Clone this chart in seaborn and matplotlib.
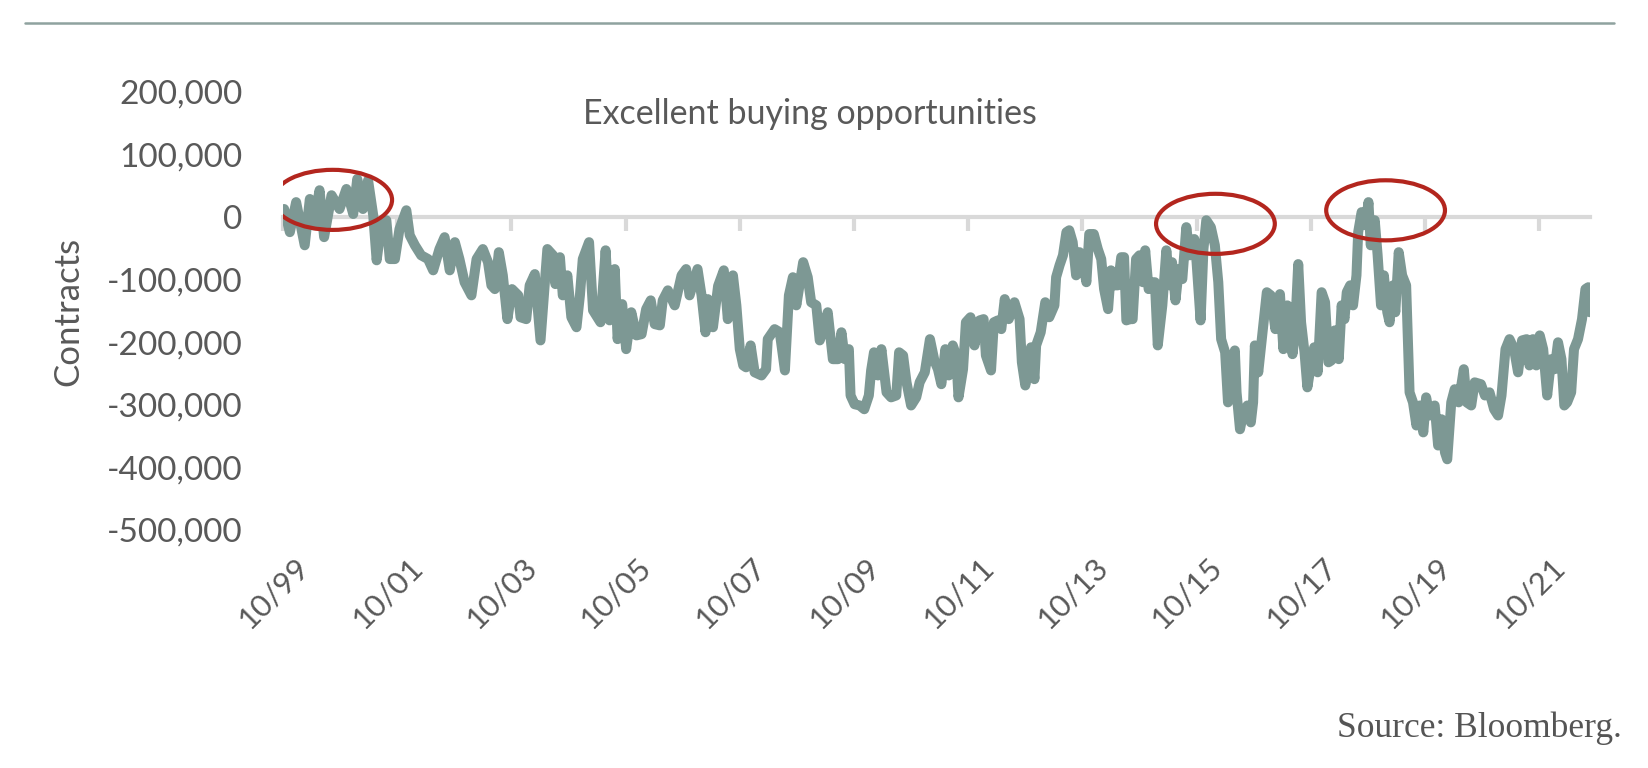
import numpy as np
import pandas as pd
import matplotlib
matplotlib.use("Agg")
import matplotlib.pyplot as plt
import matplotlib.dates as mdates
import matplotlib.transforms as mtransforms
from matplotlib.patches import Ellipse
from matplotlib.lines import Line2D
from matplotlib.ticker import FuncFormatter
import seaborn as sns

# ---- data ----
# years elapsed since October 1999
t_years = [
    0.02, 0.12, 0.23, 0.38, 0.47, 0.53, 0.64, 0.72, 0.85, 0.99, 1.11, 1.23, 1.30, 1.40, 1.49, 1.58,
    1.64, 1.72, 1.81, 1.87, 1.96, 2.04, 2.16, 2.22, 2.31, 2.42, 2.54, 2.63, 2.74, 2.83, 2.92, 3.01,
    3.09, 3.18, 3.30, 3.39, 3.50, 3.59, 3.65, 3.71, 3.78, 3.85, 3.93, 4.01, 4.12, 4.16, 4.26, 4.32,
    4.41, 4.51, 4.63, 4.73, 4.77, 4.85, 4.90, 4.98, 5.05, 5.14, 5.20, 5.25, 5.36, 5.43, 5.56, 5.65,
    5.72, 5.81, 5.86, 5.94, 6.01, 6.10, 6.19, 6.28, 6.36, 6.44, 6.51, 6.60, 6.65, 6.74, 6.86, 6.98,
    7.06, 7.12, 7.26, 7.33, 7.40, 7.44, 7.53, 7.62, 7.72, 7.79, 7.88, 7.94, 8.00, 8.06, 8.11, 8.19,
    8.26, 8.38, 8.46, 8.49, 8.61, 8.70, 8.79, 8.86, 8.93, 8.99, 9.11, 9.19, 9.25, 9.34, 9.40, 9.46,
    9.54, 9.63, 9.72, 9.78, 9.84, 9.91, 9.94, 10.01, 10.10, 10.18, 10.26, 10.30, 10.35, 10.42, 10.48,
    10.57, 10.65, 10.74, 10.79, 10.86, 10.92, 11.00, 11.09, 11.15, 11.24, 11.33, 11.41, 11.47, 11.53,
    11.60, 11.66, 11.73, 11.79, 11.83, 11.91, 11.96, 12.04, 12.11, 12.20, 12.27, 12.31, 12.40, 12.45,
    12.52, 12.58, 12.64, 12.71, 12.81, 12.90, 12.94, 13.00, 13.06, 13.10, 13.16, 13.19, 13.27, 13.35,
    13.42, 13.51, 13.54, 13.60, 13.66, 13.72, 13.77, 13.83, 13.89, 13.95, 14.01, 14.07, 14.12, 14.20,
    14.27, 14.33, 14.38, 14.45, 14.50, 14.56, 14.62, 14.68, 14.73, 14.77, 14.83, 14.88, 14.94, 15.00,
    15.06, 15.10, 15.16, 15.23, 15.27, 15.32, 15.40, 15.47, 15.53, 15.57, 15.63, 15.69, 15.75, 15.82,
    15.88, 15.96, 16.00, 16.07, 16.12, 16.17, 16.25, 16.32, 16.38, 16.43, 16.50, 16.55, 16.62, 16.67,
    16.70, 16.76, 16.82, 16.89, 16.95, 16.99, 17.02, 17.08, 17.15, 17.23, 17.30, 17.38, 17.46, 17.52,
    17.59, 17.68, 17.72, 17.78, 17.83, 17.89, 17.94, 18.01, 18.06, 18.12, 18.19, 18.25, 18.31, 18.36,
    18.42, 18.49, 18.54, 18.59, 18.63, 18.69, 18.74, 18.80, 18.83, 18.89, 18.96, 19.01, 19.05, 19.12,
    19.17, 19.23, 19.28, 19.34, 19.38, 19.44, 19.48, 19.54, 19.60, 19.67, 19.73, 19.79, 19.85, 19.91,
    19.97, 20.02, 20.08, 20.17, 20.23, 20.29, 20.35, 20.39, 20.46, 20.52, 20.59, 20.68, 20.73, 20.81,
    20.87, 20.98, 21.05, 21.13, 21.21, 21.28, 21.34, 21.41, 21.48, 21.56, 21.63, 21.70, 21.78, 21.83,
    21.89, 21.95, 22.01, 22.07, 22.14, 22.21, 22.27, 22.33, 22.39, 22.44, 22.49, 22.56, 22.61, 22.68,
    22.75, 22.81, 22.86, 22.89,
]
# net positions, thousands of contracts
net_k = [
    13, -24, 24, -45, 29, -13, 43, -32, 35, 13, 45, 5, 61, 13, 59, 3,
    -69, -13, -5, -67, -67, -19, 11, -29, -45, -61, -67, -85, -51, -32, -85, -40,
    -67, -104, -125, -67, -51, -72, -109, -115, -56, -93, -163, -115, -125, -160, -163, -109,
    -91, -197, -51, -61, -107, -64, -125, -93, -160, -176, -125, -67, -40, -149, -168, -53,
    -165, -83, -195, -139, -211, -152, -189, -187, -147, -133, -171, -173, -133, -117, -141, -93,
    -83, -125, -83, -125, -184, -131, -176, -110, -85, -163, -93, -141, -211, -237, -240, -205,
    -248, -253, -243, -195, -179, -184, -245, -125, -96, -141, -72, -96, -136, -141, -197, -181,
    -152, -227, -227, -184, -227, -211, -285, -299, -301, -307, -285, -245, -216, -253, -211,
    -280, -288, -285, -216, -221, -264, -301, -288, -264, -248, -195, -230, -243, -267,
    -211, -253, -205, -221, -288, -243, -168, -160, -205, -165, -163, -221, -245, -168,
    -165, -179, -131, -163, -136, -163, -232, -269, -240, -208, -259, -205, -184, -136,
    -160, -141, -96, -77, -61, -24, -21, -40, -93, -56, -72, -104, -27, -27,
    -51, -67, -115, -147, -85, -109, -109, -64, -64, -165, -163, -163, -67, -61,
    -104, -53, -115, -104, -104, -205, -141, -53, -109, -72, -133, -83, -99, -16,
    -61, -35, -72, -165, -51, -5, -16, -45, -104, -195, -216, -296, -243, -213,
    -280, -339, -312, -301, -328, -296, -205, -248, -189, -120, -125, -179, -123, -211,
    -141, -219, -189, -75, -168, -216, -272, -232, -208, -248, -120, -136, -232, -229,
    -181, -227, -141, -163, -120, -109, -141, -93, -24, 8, -13, 24, -45, -5,
    -60, -141, -93, -152, -168, -109, -152, -56, -93, -109, -280, -296, -333, -301,
    -344, -288, -317, -301, -365, -323, -376, -387, -296, -275, -296, -243, -296, -301,
    -264, -267, -285, -280, -307, -317, -285, -211, -195, -211, -248, -197, -195, -237,
    -195, -237, -189, -211, -285, -227, -243, -200, -227, -301, -296, -280, -211, -195,
    -163, -115, -112, -152,
]
start_date = "1999-10-01"
x_tick_labels = ["10/99", "10/01", "10/03", "10/05", "10/07", "10/09",
                 "10/11", "10/13", "10/15", "10/17", "10/19", "10/21"]
y_ticks = [200000, 100000, 0, -100000, -200000, -300000, -400000, -500000]
title_text = "Excellent buying opportunities"
y_label = "Contracts"
source_text = "Source: Bloomberg."
# highlighted zones: (years since Oct 1999, contracts)
ellipse_t = [0.87, 16.33, 19.31]
ellipse_val = [27600, -10700, 10900]

# ---- build frame ----
t0 = pd.Timestamp(start_date)
dates = [t0 + pd.Timedelta(days=v * 365.25) for v in t_years]
df = pd.DataFrame({"date": dates, "contracts": np.array(net_k) * 1000})

sns.set_style("white")
plt.rcParams["font.family"] = ["Lato", "DejaVu Sans"]

W, H = 1648, 768
fig = plt.figure(figsize=(W / 100, H / 100), dpi=100)
ax = fig.add_axes([283 / W, 1 - 530 / H, (1590 - 283) / W, (530 - 92) / H])

line_color = "#7d9894"
grey = "#595959"
axis_grey = "#d9d9d9"

sns.lineplot(data=df, x="date", y="contracts", ax=ax, color=line_color,
             linewidth=7.2, solid_joinstyle="round", solid_capstyle="round",
             zorder=3)

ax.set_ylim(-500000, 200000)
ax.set_xlim(t0, t0 + pd.Timedelta(days=22.89 * 365.25))
for s in ax.spines.values():
    s.set_visible(False)

ax.set_yticks(y_ticks)
ax.yaxis.set_major_formatter(FuncFormatter(lambda v, p: f"{int(v):,}"))
ax.tick_params(axis="y", length=0, pad=29, labelsize=24, labelcolor=grey)

tick_dates = [pd.Timestamp(f"{int(l.split('/')[1]) + (1900 if int(l.split('/')[1]) > 50 else 2000)}-10-01")
              for l in x_tick_labels]
ax.set_xticks(tick_dates)
ax.set_xticklabels(x_tick_labels, rotation=45, ha="right", rotation_mode="anchor")
ax.tick_params(axis="x", length=0, pad=16, labelsize=22.5, labelcolor=grey)
shift = mtransforms.ScaledTranslation(11 / 100, 0, fig.dpi_scale_trans)
for lab in ax.get_xticklabels():
    lab.set_transform(lab.get_transform() + shift)

ax.set_xlabel("")
ax.set_ylabel(y_label, fontsize=25, color=grey)
ax.yaxis.set_label_coords(-0.152, 0.5)

# zero axis line with tick marks
sec = ax.secondary_xaxis(500000 / 700000)
sec.set_alignment("bottom")
sec.set_xticks(tick_dates)
sec.tick_params(axis="x", length=10, width=3, color=axis_grey, labelbottom=False, labeltop=False)
for name, s in sec.spines.items():
    if name == "bottom":
        s.set_color(axis_grey)
        s.set_linewidth(3)
    else:
        s.set_visible(False)

# red ellipses
for et, ev in zip(ellipse_t, ellipse_val):
    cx = mdates.date2num(t0 + pd.Timedelta(days=et * 365.25))
    e = Ellipse((cx, ev), width=2.08 * 365.25, height=96000, fill=False,
                edgecolor="#b3261e", linewidth=3, zorder=4)
    ax.add_patch(e)

fig.text(810 / W, 1 - 114 / H, title_text, ha="center", va="center",
         fontsize=24.5, color=grey)

fig.add_artist(Line2D([25 / W, 1614 / W], [1 - 23 / H, 1 - 23 / H],
                      transform=fig.transFigure, color="#8fa29f", linewidth=1.8))

fig.text(1622 / W, 1 - 728 / H, source_text, ha="right", va="center",
         fontsize=25.5, color="#555555", family=["Liberation Serif", "DejaVu Serif"])

fig.savefig("out.png", dpi=100, facecolor="white")
